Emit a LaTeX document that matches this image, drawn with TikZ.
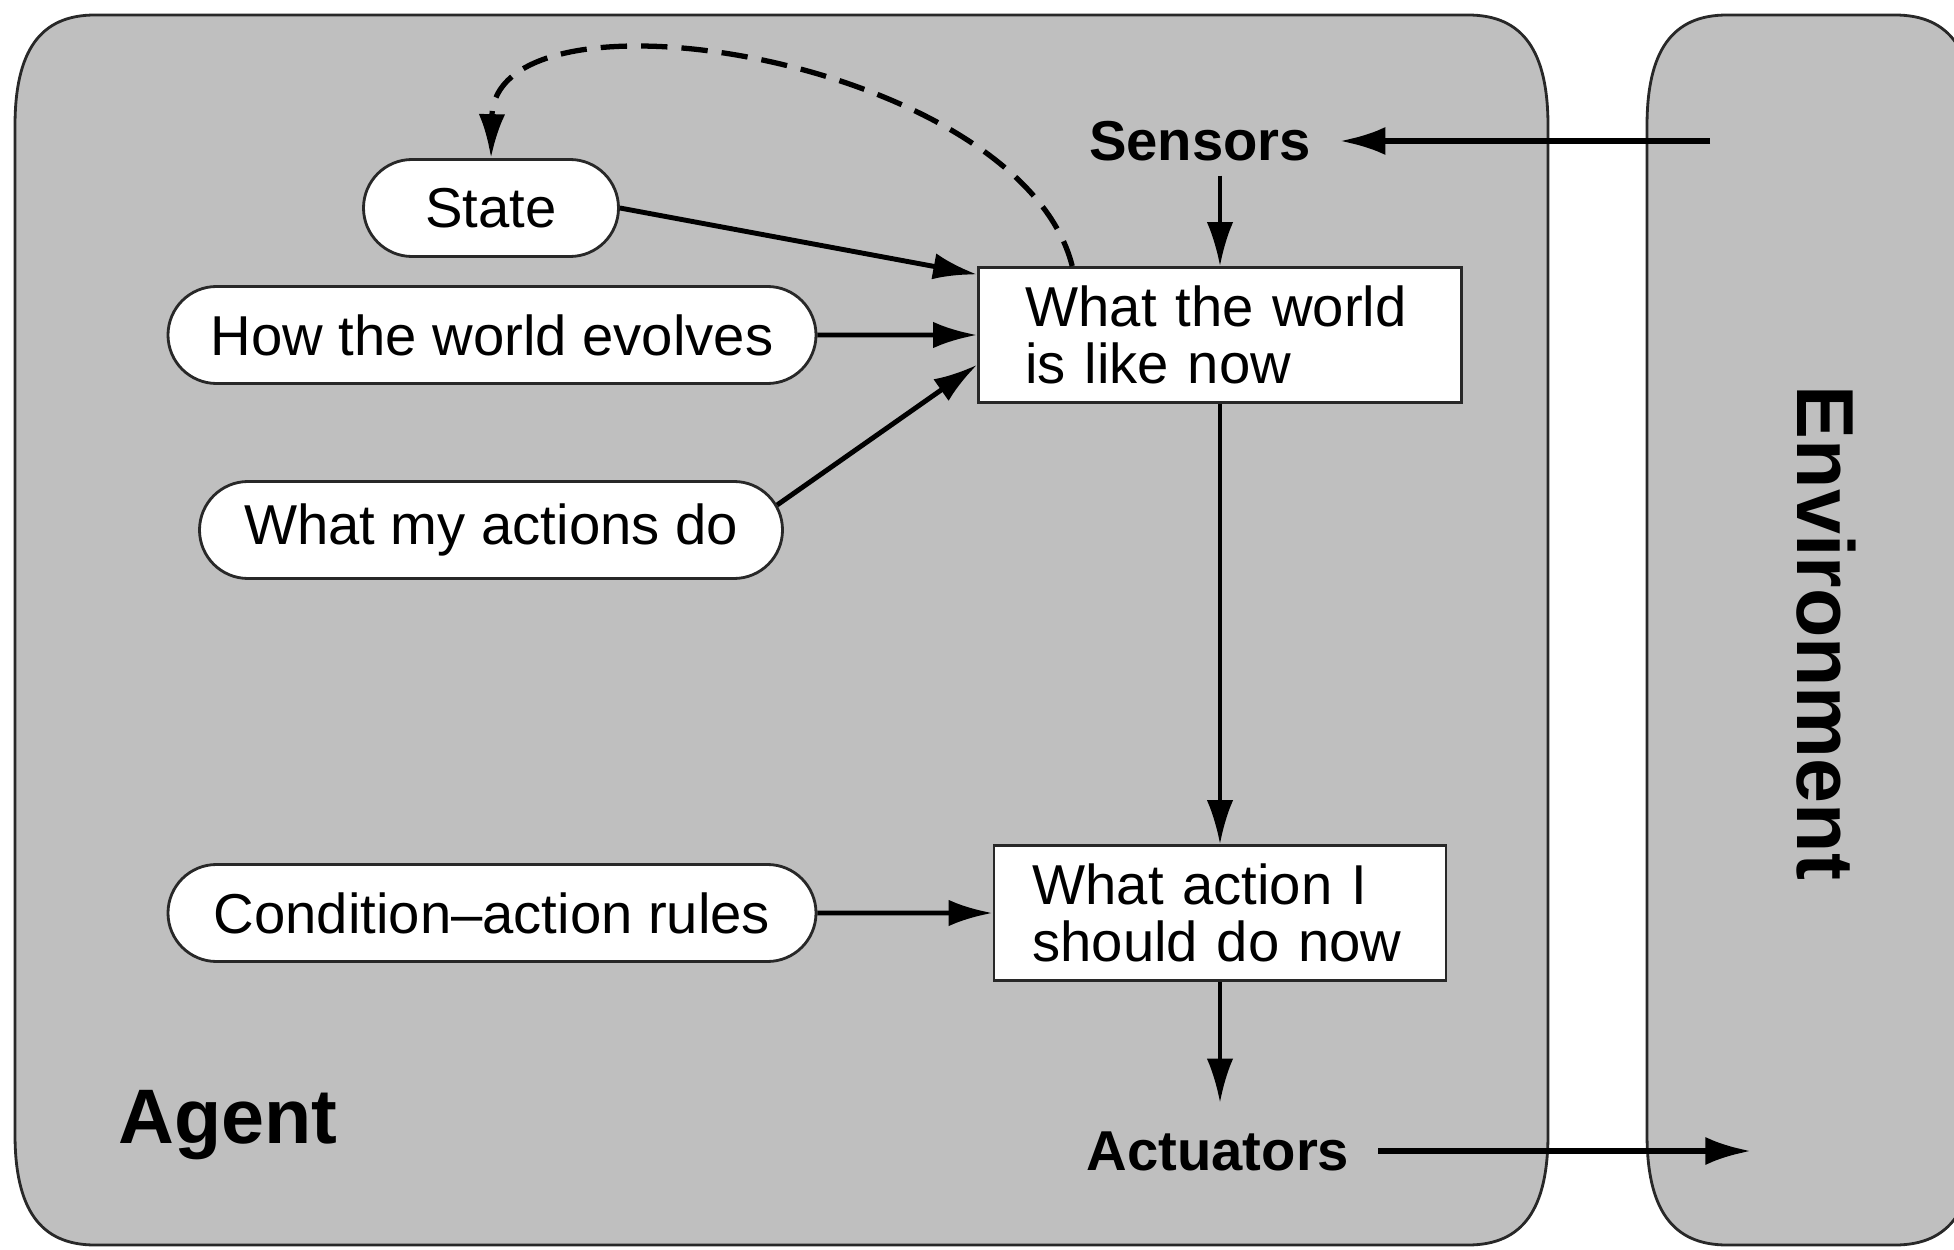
\documentclass[tikz,border=0pt]{standalone}
\usepackage{fontspec}
\setmainfont{Liberation Sans}
\usepackage{xcolor}
\usepackage{tikz}
\definecolor{agentgray}{RGB}{191, 191, 191}
\definecolor{edgegray}{RGB}{40, 40, 40}
\usetikzlibrary{arrows.meta, shapes.misc, positioning}

\begin{document}
\begin{tikzpicture}[
    font=\fontsize{16}{16}\selectfont,
    pill/.style={draw=edgegray, fill=white, line width=0.8pt, rounded rectangle,
                 minimum height=0.97cm, inner xsep=0pt},
    statebox/.style={draw=edgegray, fill=white, line width=0.8pt, align=left,
                     inner ysep=0pt, minimum height=1.35cm},
    port/.style={font=\fontsize{16}{16}\selectfont\bfseries, inner xsep=8pt, inner ysep=4pt},
    arr/.style={-{Latex[length=12.5pt, width=7.5pt]}, line width=1.4pt},
    thinarr/.style={-{Latex[length=12.5pt, width=7.5pt]}, line width=1.1pt},
    bigarr/.style={-{Latex[length=13pt, width=8pt]}, line width=1.7pt},
    feedback/.style={-{Latex[length=12.5pt, width=7.5pt]}, line width=1.5pt, dash pattern=on 7.5pt off 4pt}
]
    \clip (0,0) rectangle (19.54,12.49);
    \fill[white] (0,0) rectangle (19.54,12.49);

    % agent and environment
    \draw[draw=edgegray, fill=agentgray, line width=0.8pt]
        (0.15,1.15) .. controls (0.15,0.4) and (0.4,0.04) .. (0.95,0.04)
        -- (14.68,0.04) .. controls (15.23,0.04) and (15.48,0.4) .. (15.48,1.15)
        -- (15.48,11.23) .. controls (15.48,11.98) and (15.23,12.34) .. (14.68,12.34)
        -- (0.95,12.34) .. controls (0.4,12.34) and (0.15,11.98) .. (0.15,11.23) -- cycle;
    \draw[draw=edgegray, fill=agentgray, line width=0.8pt]
        (16.47,1.15) .. controls (16.47,0.4) and (16.72,0.04) .. (17.27,0.04)
        -- (18.95,0.04) .. controls (19.5,0.04) and (19.75,0.4) .. (19.75,1.15)
        -- (19.75,11.23) .. controls (19.75,11.98) and (19.5,12.34) .. (18.95,12.34)
        -- (17.27,12.34) .. controls (16.72,12.34) and (16.47,11.98) .. (16.47,11.23) -- cycle;

    \node[font=\fontsize{22}{26}\selectfont\bfseries] (agentlabel) at (2.28,1.24) {Agent};
    \node[font=\fontsize{23}{26}\selectfont\bfseries, rotate=-90] (envlabel) at (18.26,6.16) {Environment};

    % inner parts
    \node[pill, minimum width=2.55cm] (state) at (4.91,10.41) {State};
    \node[pill, minimum width=6.48cm] (evolves) at (4.92,9.14) {How the world evolves};
    \node[pill, minimum width=5.83cm] (actions) at (4.91,7.19) {What my actions do};
    \node[pill, minimum width=6.48cm] (rules) at (4.92,3.36) {Condition--action rules};

    \node[statebox, text width=3.89cm, inner xsep=0.47cm] (world) at (12.2,9.14)
        {What the world\\is like now};
    \node[statebox, text width=3.75cm, inner xsep=0.385cm] (act) at (12.2,3.36)
        {What action I\\should do now};

    \node[port] (sensors) at (12.0,11.08) {Sensors};
    \node[port] (actuators) at (12.18,0.98) {Actuators};
    \coordinate (envin) at (17.10,11.08);
    \coordinate (envout) at (17.51,0.98);

    % connections
    \draw[bigarr] (envin) -- (sensors);
    \draw[thinarr] (sensors.south -| world.north) -- (world.north);
    \draw[arr] (state.east) -- (world.166);
    \draw[arr] (evolves) -- (world);
    \draw[arr] (actions.5) -- (world.187);
    \draw[feedback] (world.155) .. controls (10.2,11.9) and (4.95,12.75) .. (state.north);
    \draw[thinarr] (world) -- (act);
    \draw[arr] (rules) -- (act);
    \draw[thinarr, shorten >=4pt] (act.south) -- (act.south |- actuators.north);
    \draw[bigarr] (actuators) -- (envout);
\end{tikzpicture}
\end{document}
